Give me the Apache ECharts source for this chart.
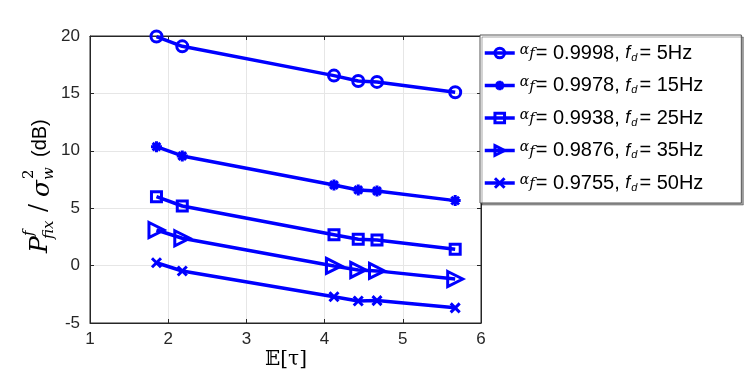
<!DOCTYPE html>
<html>
<head>
<meta charset="utf-8">
<script src="https://cdn.jsdelivr.net/npm/echarts@6/dist/echarts.min.js"></script>
<style>
* { margin: 0; padding: 0; }
html, body { width: 747px; height: 392px; background: #fff; }
#main { width: 747px; height: 392px; }
</style>
</head>
<body>
<div id="main"></div>
<script>
// E[tau] values (shared by all curves)
var tauMean = [1.85, 2.18, 4.12, 4.43, 4.67, 5.67];

// P_fix / sigma_w^2 in dB, one array per curve
var p5Hz  = [19.95, 19.1, 16.55, 16.08, 16.0, 15.1];
var p15Hz = [10.36, 9.55, 7.02, 6.59, 6.5, 5.66];
var p25Hz = [6.0, 5.19, 2.69, 2.29, 2.23, 1.42];
var p35Hz = [3.1, 2.38, -0.03, -0.38, -0.46, -1.17];
var p50Hz = [0.25, -0.47, -2.71, -3.08, -3.05, -3.68];

var alphaF = ['0.9998', '0.9978', '0.9938', '0.9876', '0.9755'];
var fdHz   = ['5', '15', '25', '35', '50'];

var blue = '#0000ff';
var dark = '#262626';

function pts(ys) {
  return tauMean.map(function (x, i) { return [x, ys[i]]; });
}

// marker shapes
var markers = [
  { symbol: 'circle', size: 11, hollow: true },
  { symbol: 'path://M5,0L5,10M0,5L10,5M1.5,1.5L8.5,8.5M8.5,1.5L1.5,8.5', size: 11, hollow: false },
  { symbol: 'rect', size: 10, hollow: true },
  { symbol: 'path://M0,0L10,5L0,10Z', size: 15, hollow: true },
  { symbol: 'path://M0,0L10,10M10,0L0,10', size: 9, hollow: false }
];
var data = [p5Hz, p15Hz, p25Hz, p35Hz, p50Hz];

var series = data.map(function (ys, i) {
  var m = markers[i];
  return {
    name: 's' + i,
    type: 'line',
    data: pts(ys),
    symbol: m.symbol,
    symbolSize: m.size,
    showAllSymbol: true,
    lineStyle: { color: blue, width: 3.5 },
    itemStyle: {
      color: m.hollow ? 'rgba(0,0,0,0)' : blue,
      borderColor: blue,
      borderWidth: 3
    },
    emphasis: { disabled: true },
    animation: false
  };
});

var legendNames = {};
alphaF.forEach(function (a, i) {
  legendNames['s' + i] = '{a|α}{af|f}{t|= ' + a + ', }{fi|f}{d|d}{t|= ' + fdHz[i] + 'Hz}';
});

var axisCommon = {
  type: 'value',
  axisLine: { show: true, onZero: false, lineStyle: { color: dark } },
  axisTick: { inside: true, length: 4, lineStyle: { color: dark } }
};

var chart = echarts.init(document.getElementById('main'));
chart.setOption({
  backgroundColor: '#fff',
  animation: false,
  grid: { left: 90, right: 266, top: 36, bottom: 69, show: true, borderColor: dark, borderWidth: 1 },
  xAxis: [Object.assign({}, axisCommon, {
    min: 1, max: 6, interval: 1,
    axisLabel: { color: dark, fontSize: 17, fontFamily: 'Arial, Liberation Sans', margin: 8 },
    splitLine: { show: true, lineStyle: { color: '#e6e6e6' } }
  }), Object.assign({}, axisCommon, {
    min: 1, max: 6, interval: 1, position: 'top',
    axisLabel: { show: false },
    splitLine: { show: false }
  })],
  yAxis: [Object.assign({}, axisCommon, {
    min: -5, max: 20, interval: 5,
    axisLabel: { color: dark, fontSize: 17, fontFamily: 'Arial, Liberation Sans', margin: 10 },
    splitLine: { show: true, lineStyle: { color: '#e6e6e6' } }
  }), Object.assign({}, axisCommon, {
    min: -5, max: 20, interval: 5, position: 'right',
    axisLabel: { show: false },
    splitLine: { show: false }
  })],
  legend: {
    orient: 'vertical',
    left: 480, top: 35,
    padding: [8, 38, 10, 3],
    itemWidth: 30, itemHeight: 12, itemGap: 12.5,
    backgroundColor: '#fff',
    borderColor: '#555', borderWidth: 1,
    shadowColor: 'rgba(0,0,0,0.35)', shadowOffsetX: 2, shadowOffsetY: 2, shadowBlur: 0,
    selectedMode: false,
    lineStyle: { width: 3.5, color: blue },
    itemStyle: { borderWidth: 3 },
    data: series.map(function (s) { return s.name; }),
    formatter: function (name) { return legendNames[name]; },
    textStyle: {
      color: '#000',
      rich: {
        a: { fontSize: 14, fontFamily: 'DejaVu Serif', fontStyle: 'italic', verticalAlign: 'top', lineHeight: 20 },
        af: { fontSize: 15, fontFamily: 'DejaVu Serif', fontStyle: 'italic', lineHeight: 20, padding: [3, 1, 0, 0] },
        t: { fontSize: 20, fontFamily: 'Arial, Liberation Sans', lineHeight: 20 },
        fi: { fontSize: 18, fontFamily: 'Arial, Liberation Sans', fontStyle: 'italic', lineHeight: 20, padding: [0, 1, 0, 0] },
        d: { fontSize: 11, fontFamily: 'Arial, Liberation Sans', fontStyle: 'italic', verticalAlign: 'bottom', lineHeight: 20, padding: [6, 2, 0, 0] }
      }
    }
  },
  graphic: [{
    // y-axis title, rotated, written bottom to top
    type: 'group',
    x: 40, y: 253,
    rotation: Math.PI / 2,
    children: [
      { type: 'text', x: 0, y: 0, style: { text: 'P', font: 'italic 25px "DejaVu Serif"', fill: '#000', verticalAlign: 'middle' } },
      { type: 'text', x: 17, y: -11, style: { text: 'f', font: 'italic 15px "DejaVu Serif"', fill: '#000', verticalAlign: 'middle' } },
      { type: 'text', x: 14, y: 9, style: { text: 'fix', font: 'italic 15px "DejaVu Serif"', fill: '#000', verticalAlign: 'middle' } },
      { type: 'text', x: 41, y: 0, style: { text: '/', font: '24px "DejaVu Serif"', fill: '#000', verticalAlign: 'middle' } },
      { type: 'text', x: 56, y: 2, style: { text: 'σ', font: 'italic 25px "DejaVu Serif"', fill: '#000', verticalAlign: 'middle' } },
      { type: 'text', x: 74, y: -11, style: { text: '2', font: '15px "DejaVu Serif"', fill: '#000', verticalAlign: 'middle' } },
      { type: 'text', x: 73, y: 9, style: { text: 'w', font: 'italic 15px "DejaVu Serif"', fill: '#000', verticalAlign: 'middle' } },
      { type: 'text', x: 96, y: 0, style: { text: '(dB)', font: '20px Arial, "Liberation Sans"', fill: '#000', verticalAlign: 'middle' } }
    ]
  }, {
    type: 'text',
    x: 286, y: 360,
    style: { text: '𝔼[τ]', font: '20px "DejaVu Serif"', fill: '#000', align: 'center', verticalAlign: 'middle' }
  }],
  series: series
});
</script>
</body>
</html>
